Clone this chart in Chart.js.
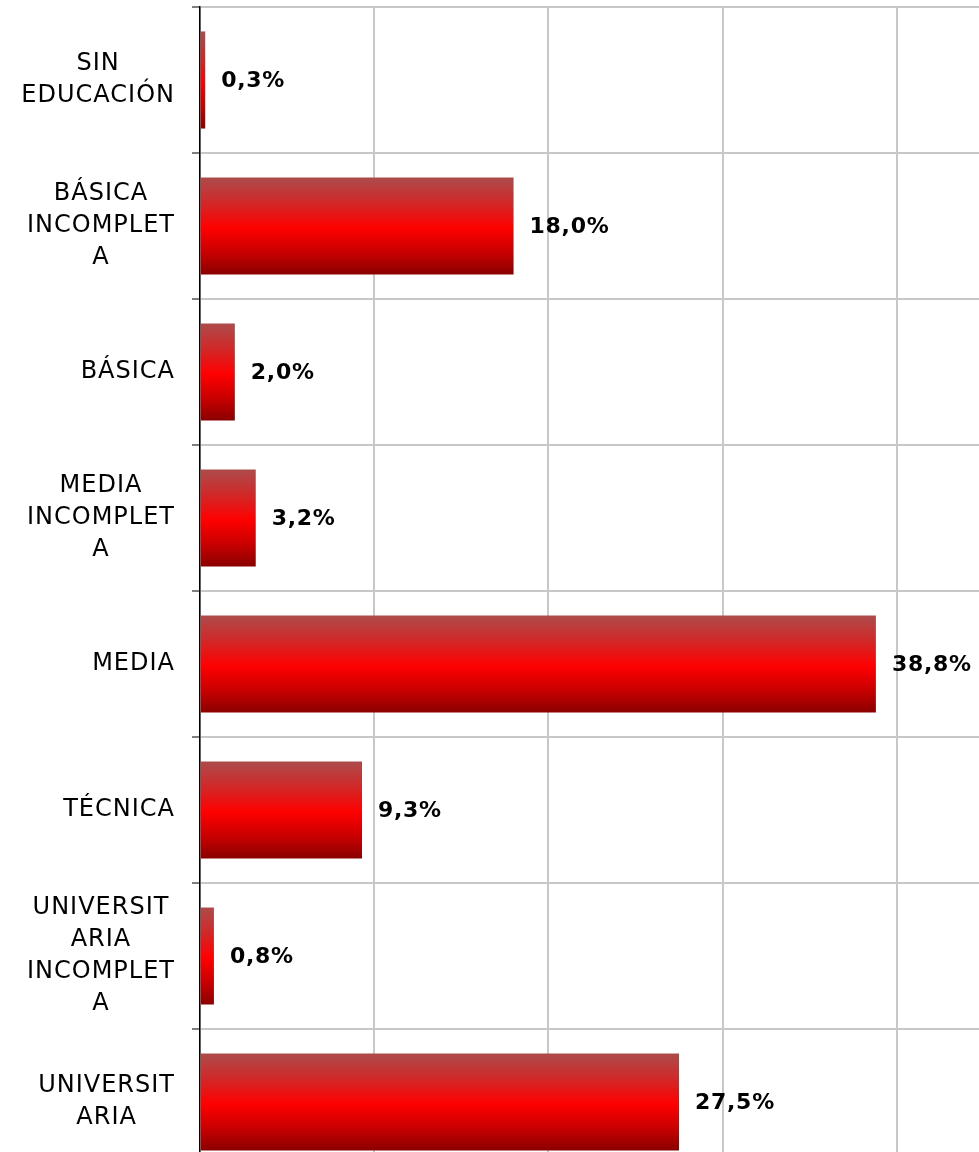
<!DOCTYPE html>
<html>
<head>
<meta charset="utf-8">
<script src="https://cdn.jsdelivr.net/npm/chart.js@4.4.1/dist/chart.umd.min.js"></script>
<style>
  html, body { margin: 0; padding: 0; background: #ffffff; overflow: hidden; }
  #wrap { position: relative; width: 1080px; height: 1180px; }
</style>
</head>
<body>
<div id="wrap"><canvas id="c"></canvas></div>
<script>
const categories = [
  ["SIN", "EDUCACIÓN"],
  ["BÁSICA", "INCOMPLET", "A"],
  ["BÁSICA"],
  ["MEDIA", "INCOMPLET", "A"],
  ["MEDIA"],
  ["TÉCNICA"],
  ["UNIVERSIT", "ARIA", "INCOMPLET", "A"],
  ["UNIVERSIT", "ARIA"]
];
const values = [0.3, 18.0, 2.0, 3.2, 38.8, 9.3, 0.8, 27.5];
const valueLabels = ["0,3%", "18,0%", "2,0%", "3,2%", "38,8%", "9,3%", "0,8%", "27,5%"];
const xTicks = [0, 10, 20, 30, 40, 50];

const FONT = "'DejaVu Sans', Verdana, sans-serif";
const BAR_PCT = 0.665;

function barGradient(context) {
  const chart = context.chart;
  const yScale = chart.scales.y;
  if (!yScale || context.dataIndex === undefined) return '#ff0000';
  const cy = yScale.getPixelForValue(context.dataIndex);
  const band = (yScale.bottom - yScale.top) / categories.length;
  const h = band * BAR_PCT;
  if (!isFinite(cy) || !isFinite(h) || h <= 0) return '#ff0000';
  const g = chart.ctx.createLinearGradient(0, cy - h / 2, 0, cy + h / 2);
  g.addColorStop(0, '#ad4b4b');
  g.addColorStop(0.25, '#cf2a2a');
  g.addColorStop(0.52, '#ff0000');
  g.addColorStop(0.78, '#c60000');
  g.addColorStop(1, '#8a0000');
  return g;
}

const labelPlugin = {
  id: 'labels',
  afterDraw(chart) {
    const ctx = chart.ctx;
    const yScale = chart.scales.y;
    ctx.save();
    ctx.font = "24px " + FONT;
    if ('letterSpacing' in ctx) ctx.letterSpacing = '1px';
    ctx.fillStyle = '#000000';
    ctx.textAlign = 'center';
    ctx.textBaseline = 'middle';
    const lineH = 32;
    const rightEdge = yScale.right - 25;
    categories.forEach((lines, i) => {
      const cy = yScale.getPixelForTick(i);
      const w = Math.max(...lines.map(l => ctx.measureText(l).width));
      const cx = rightEdge - w / 2;
      const startY = cy - (lines.length - 1) * lineH / 2;
      lines.forEach((l, j) => ctx.fillText(l, cx, startY + j * lineH));
    });
    ctx.font = "bold 22px " + FONT;
    if ('letterSpacing' in ctx) ctx.letterSpacing = '0.7px';
    ctx.textAlign = 'left';
    chart.getDatasetMeta(0).data.forEach((el, i) => {
      ctx.fillText(valueLabels[i], el.x + 16, el.y + 1);
    });
    ctx.restore();
  }
};

new Chart(document.getElementById('c'), {
  type: 'bar',
  data: {
    labels: categories.map(l => l.join(' ')),
    datasets: [{
      data: values,
      backgroundColor: barGradient,
      borderWidth: 0,
      barPercentage: BAR_PCT,
      categoryPercentage: 1.0
    }]
  },
  options: {
    indexAxis: 'y',
    responsive: true,
    maintainAspectRatio: false,
    animation: false,
    layout: { padding: { top: 7, right: 9, bottom: 5, left: 0 } },
    plugins: { legend: { display: false }, tooltip: { enabled: false } },
    scales: {
      x: {
        min: 0, max: 50,
        afterBuildTicks(scale) { scale.ticks = xTicks.map(v => ({ value: v })); },
        afterFit(scale) { scale.height = 0; },
        ticks: { display: false },
        grid: { color: '#c8c8c8', lineWidth: 2, drawTicks: false },
        border: { display: false }
      },
      y: {
        afterFit(scale) { scale.width = 200; },
        ticks: { display: false },
        grid: { offset: true, color: '#c8c8c8', lineWidth: 2, tickLength: 8, tickColor: '#555555', tickWidth: 1.5 },
        border: { display: true, color: '#000000', width: 1.5 }
      }
    }
  },
  plugins: [labelPlugin]
});
</script>
</body>
</html>
